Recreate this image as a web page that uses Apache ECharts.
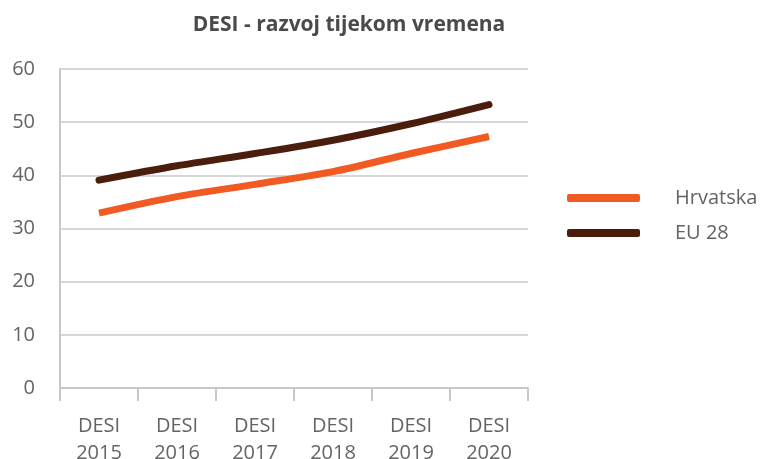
<!DOCTYPE html>
<html>
<head>
<meta charset="utf-8">
<script src="https://cdn.jsdelivr.net/npm/echarts@6/dist/echarts.min.js"></script>
<style>html,body{margin:0;padding:0;background:#fff}#c{width:762px;height:459px}</style>
</head>
<body>
<div id="c"></div>
<script>
const categories = ['DESI\n2015', 'DESI\n2016', 'DESI\n2017', 'DESI\n2018', 'DESI\n2019', 'DESI\n2020'];
const hrvatska = [32.9, 36.0, 38.3, 40.7, 44.1, 47.3];
const eu28 = [39.1, 41.8, 44.1, 46.6, 49.7, 53.3];
const seriesNames = ['Hrvatska', 'EU 28'];
const yTicks = { min: 0, max: 60, interval: 10 };

const chart = echarts.init(document.getElementById('c'));
const font = '"Open Sans", sans-serif';
const labelColor = '#636466';
chart.setOption({
  animation: false,
  title: {
    text: 'DESI - razvoj tijekom vremena',
    left: 344, top: 10, textAlign: 'center',
    textStyle: { fontFamily: font, fontWeight: 'bold', fontSize: 21, color: '#4a4a4c' }
  },
  legend: {
    orient: 'vertical', left: 562, top: 183,
    itemWidth: 73, itemHeight: 8, itemGap: 15,
    icon: 'roundRect',
    textStyle: { fontFamily: font, fontSize: 20, lineHeight: 20, color: labelColor, padding: [0, 0, 0, 30] },
    data: seriesNames
  },
  grid: { left: 60, right: 234, top: 69, bottom: 71, containLabel: false, outerBoundsMode: 'none' },
  xAxis: {
    type: 'category', data: categories, boundaryGap: true,
    axisLine: { lineStyle: { color: '#c8c8c8', width: 2 } },
    axisTick: { show: true, length: 13, lineStyle: { color: '#c8c8c8', width: 2 } },
    axisLabel: { fontFamily: font, fontSize: 20, color: labelColor, lineHeight: 27, margin: 25 }
  },
  yAxis: {
    type: 'value', min: yTicks.min, max: yTicks.max, interval: yTicks.interval,
    axisLine: { show: true, lineStyle: { color: '#c8c8c8', width: 2 } },
    axisTick: { show: false },
    splitLine: { lineStyle: { color: '#d6d6d6', width: 2 } },
    axisLabel: { fontFamily: font, fontSize: 20, color: labelColor, margin: 25 }
  },
  series: [
    { name: seriesNames[0], type: 'line', data: hrvatska, smooth: 0.3, showSymbol: false,
      itemStyle: { color: '#f15a22' }, lineStyle: { color: '#f15a22', width: 7, cap: 'butt' } },
    { name: seriesNames[1], type: 'line', data: eu28, smooth: 0.3, showSymbol: false,
      itemStyle: { color: '#4a1d0c' }, lineStyle: { color: '#4a1d0c', width: 7, cap: 'round' } }
  ]
});
</script>
</body>
</html>
